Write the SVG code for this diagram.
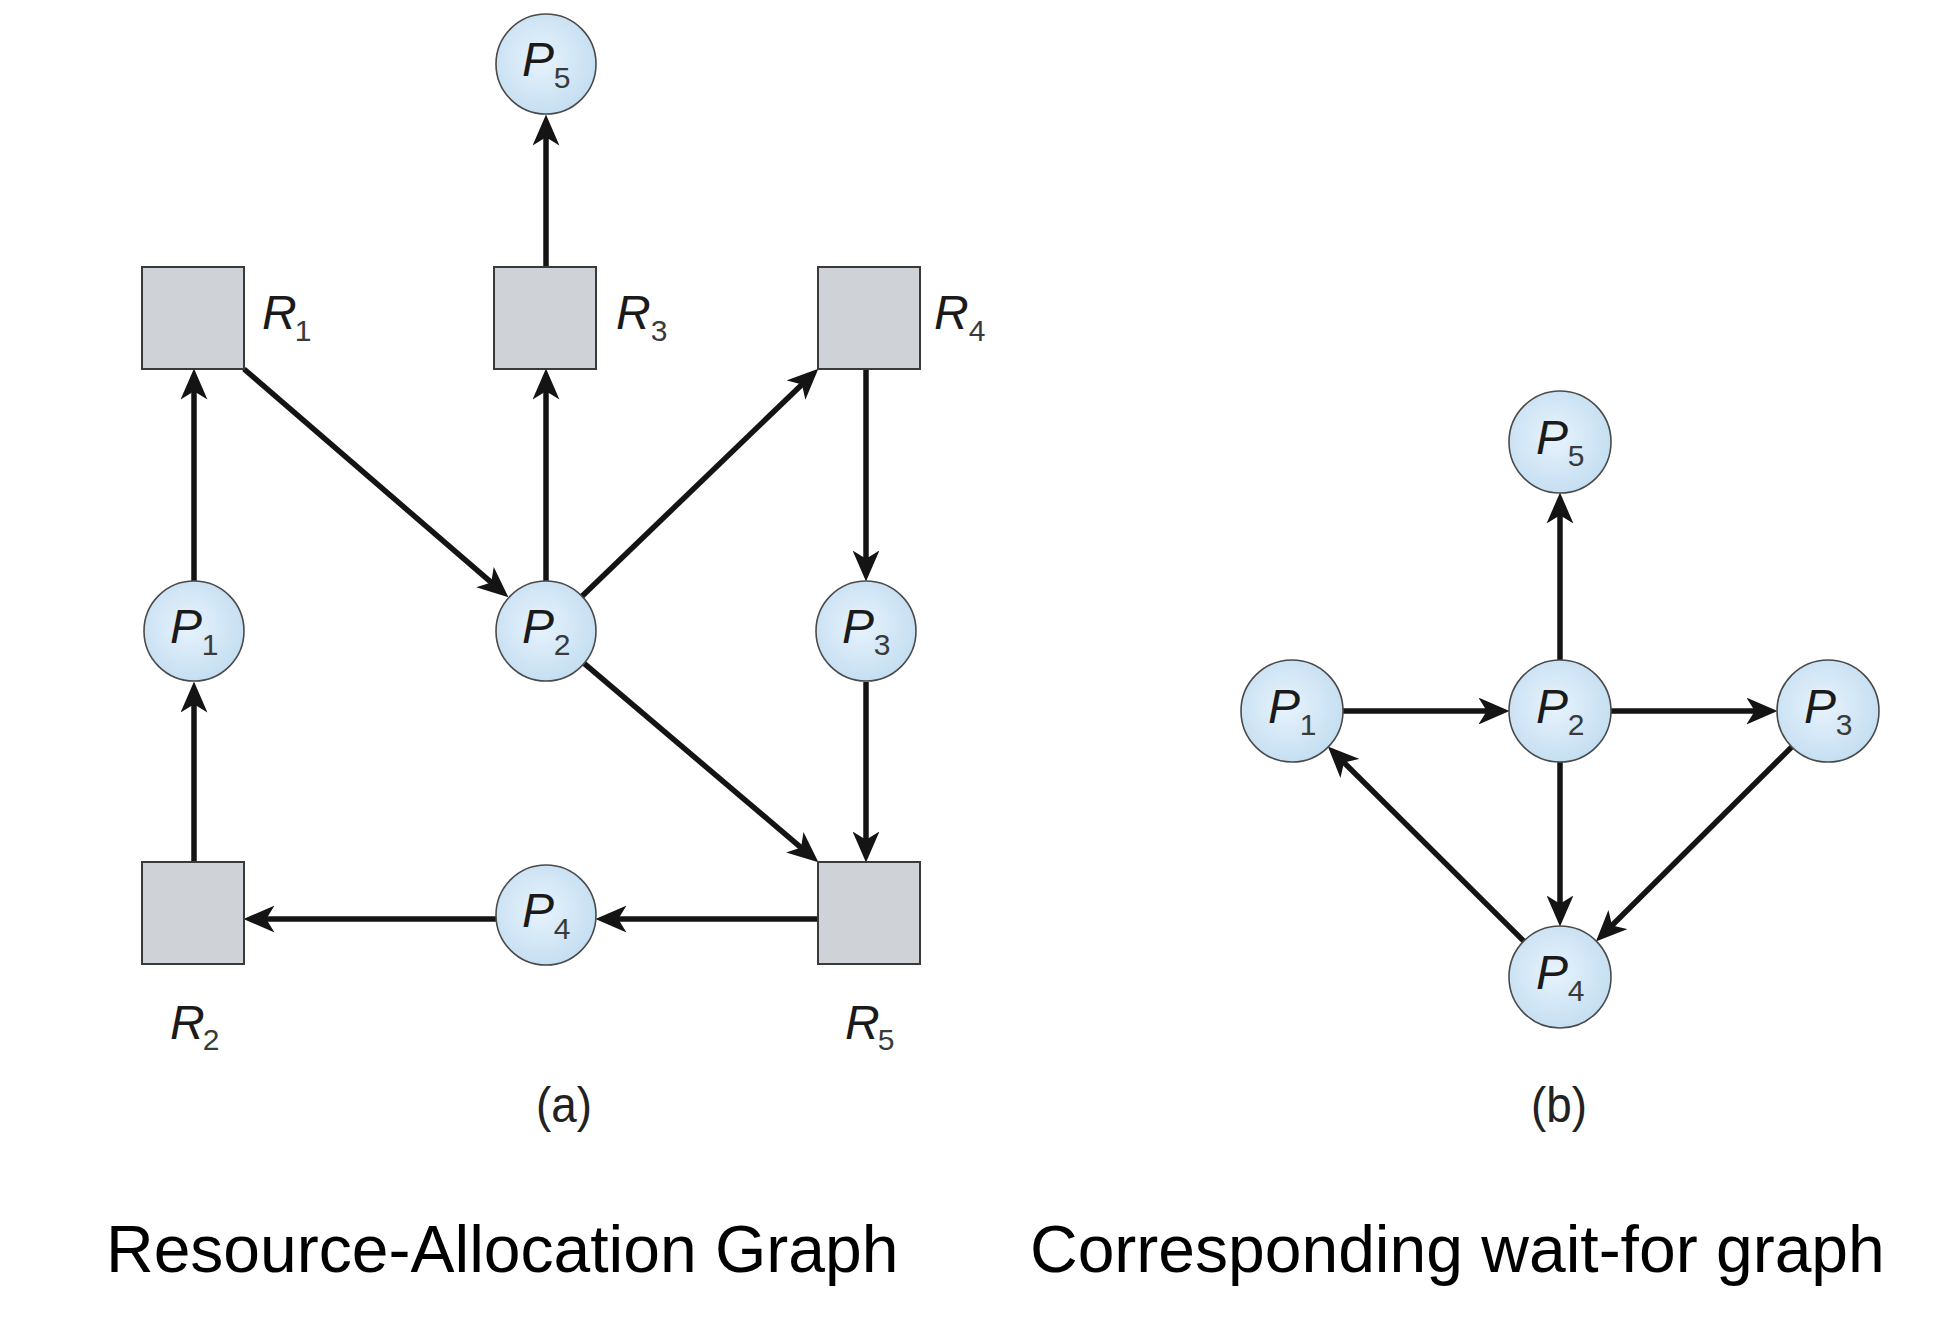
<svg xmlns="http://www.w3.org/2000/svg" width="1938" height="1334" viewBox="0 0 1938 1334">
<style>
.proc{stroke:#4a4a4a;stroke-width:1.6;fill:url(#pg)}
.res{fill:#cfd2d6;stroke:#3a3a3a;stroke-width:2}
.edge{stroke:#141414;stroke-width:5.5;fill:none;marker-end:url(#ah)}
.lbl{font-family:"Liberation Sans",Arial,sans-serif;font-style:italic;font-size:48px;fill:#1a1a1a}
.sub{font-family:"Liberation Sans",Arial,sans-serif;font-size:30px;fill:#3a3a3a;text-anchor:middle}
.cap{font-family:"Liberation Sans",Arial,sans-serif;font-size:50px;fill:#222;text-anchor:middle}
.title{font-family:"Liberation Sans",Arial,sans-serif;font-size:66px;fill:#000}
</style>
<defs>
<radialGradient id="pg" cx="0.45" cy="0.45" r="0.6">
<stop offset="0" stop-color="#e8f3fc"/>
<stop offset="1" stop-color="#c2ddf1"/>
</radialGradient>
<marker id="ah" markerUnits="userSpaceOnUse" markerWidth="31" markerHeight="27" viewBox="0 0 30 26" refX="15" refY="13" orient="auto">
<path d="M30,13 L0,0 L8,13 L0,26 Z" fill="#141414"/>
</marker>
</defs>
<rect width="1938" height="1334" fill="#fff"/>

<g id="connectors">
<!-- (a) resource-allocation graph -->
<line class="edge" x1="546" y1="267" x2="546" y2="130"/>
<line class="edge" x1="244" y1="369" x2="496.7" y2="587.2"/>
<line class="edge" x1="546" y1="581" x2="546" y2="384"/>
<line class="edge" x1="582" y1="596.3" x2="807.2" y2="379.4"/>
<line class="edge" x1="866" y1="369" x2="866" y2="566"/>
<line class="edge" x1="194" y1="581" x2="194" y2="384"/>
<line class="edge" x1="194" y1="862" x2="194" y2="697"/>
<line class="edge" x1="584.1" y1="663.4" x2="806.6" y2="852.3"/>
<line class="edge" x1="866" y1="682" x2="866" y2="847"/>
<line class="edge" x1="818" y1="919" x2="611" y2="919"/>
<line class="edge" x1="496" y1="919" x2="259" y2="919"/>
<!-- (b) wait-for graph -->
<line class="edge" x1="1560" y1="660" x2="1560" y2="508"/>
<line class="edge" x1="1343" y1="711" x2="1494" y2="711"/>
<line class="edge" x1="1611" y1="711" x2="1762" y2="711"/>
<line class="edge" x1="1560" y1="762" x2="1560" y2="911"/>
<line class="edge" x1="1791.8" y1="746.9" x2="1606.9" y2="930.5"/>
<line class="edge" x1="1523.8" y1="941.1" x2="1338.9" y2="757.5"/>
</g>

<!-- (a) nodes -->
<g id="a-P5"><circle class="proc" cx="546" cy="64" r="50"/><text class="lbl" x="522" y="76">P</text><text class="sub" x="562" y="88">5</text></g>
<g id="a-R1"><rect class="res" x="142" y="267" width="102" height="102"/><text class="lbl" x="262" y="329">R</text><text class="sub" x="303" y="341">1</text></g>
<g id="a-R3"><rect class="res" x="494" y="267" width="102" height="102"/><text class="lbl" x="616" y="329">R</text><text class="sub" x="659" y="341">3</text></g>
<g id="a-R4"><rect class="res" x="818" y="267" width="102" height="102"/><text class="lbl" x="934" y="329">R</text><text class="sub" x="977" y="341">4</text></g>
<g id="a-P1"><circle class="proc" cx="194" cy="631" r="50"/><text class="lbl" x="170" y="643">P</text><text class="sub" x="210" y="655">1</text></g>
<g id="a-P2"><circle class="proc" cx="546" cy="631" r="50"/><text class="lbl" x="522" y="643">P</text><text class="sub" x="562" y="655">2</text></g>
<g id="a-P3"><circle class="proc" cx="866" cy="631" r="50"/><text class="lbl" x="842" y="643">P</text><text class="sub" x="882" y="655">3</text></g>
<g id="a-R2"><rect class="res" x="142" y="862" width="102" height="102"/><text class="lbl" x="170" y="1039">R</text><text class="sub" x="211" y="1050">2</text></g>
<g id="a-P4"><circle class="proc" cx="546" cy="915" r="50"/><text class="lbl" x="522" y="927">P</text><text class="sub" x="562" y="939">4</text></g>
<g id="a-R5"><rect class="res" x="818" y="862" width="102" height="102"/><text class="lbl" x="845" y="1039">R</text><text class="sub" x="886" y="1050">5</text></g>
<text class="cap" x="564" y="1122" textLength="56" lengthAdjust="spacingAndGlyphs">(a)</text>

<!-- (b) nodes -->
<g id="b-P5"><circle class="proc" cx="1560" cy="442" r="51"/><text class="lbl" x="1536" y="454">P</text><text class="sub" x="1576" y="466">5</text></g>
<g id="b-P1"><circle class="proc" cx="1292" cy="711" r="51"/><text class="lbl" x="1268" y="723">P</text><text class="sub" x="1308" y="735">1</text></g>
<g id="b-P2"><circle class="proc" cx="1560" cy="711" r="51"/><text class="lbl" x="1536" y="723">P</text><text class="sub" x="1576" y="735">2</text></g>
<g id="b-P3"><circle class="proc" cx="1828" cy="711" r="51"/><text class="lbl" x="1804" y="723">P</text><text class="sub" x="1844" y="735">3</text></g>
<g id="b-P4"><circle class="proc" cx="1560" cy="977" r="51"/><text class="lbl" x="1536" y="989">P</text><text class="sub" x="1576" y="1001">4</text></g>
<text class="cap" x="1559" y="1122" textLength="56" lengthAdjust="spacingAndGlyphs">(b)</text>

<text class="title" x="106" y="1272">Resource-Allocation Graph</text>
<text class="title" x="1030" y="1272">Corresponding wait-for graph</text>
</svg>
